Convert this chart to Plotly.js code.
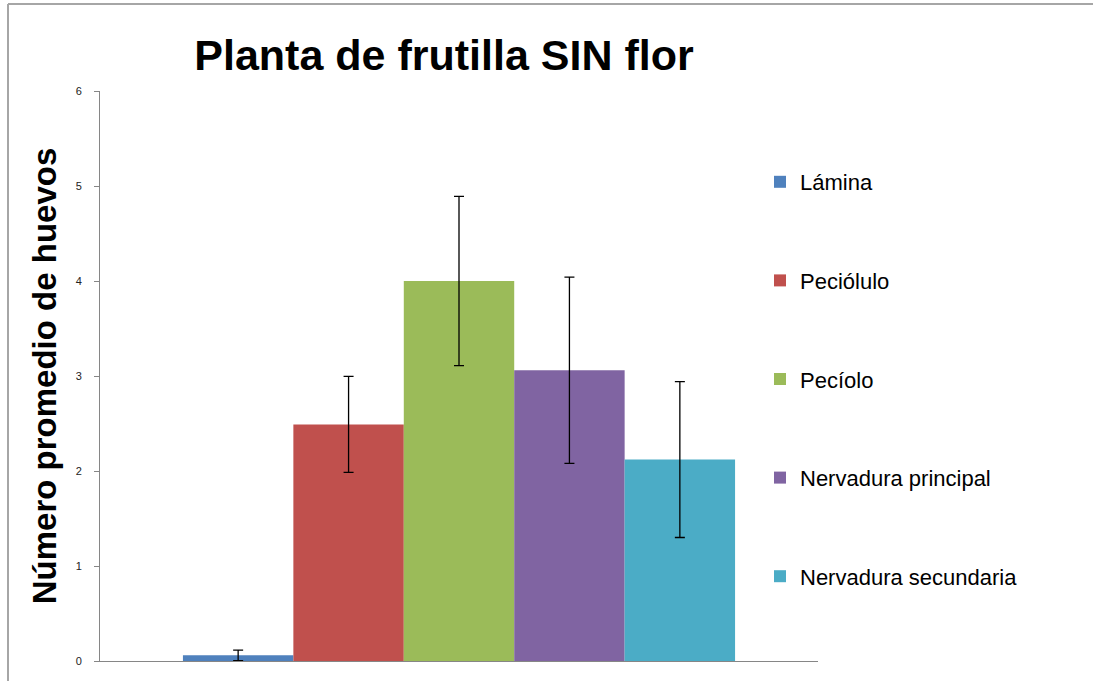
<!DOCTYPE html>
<html>
<head>
<meta charset="utf-8">
<script src="https://cdn.plot.ly/plotly-3.0.1.min.js"></script>
<style>html,body{margin:0;padding:0;background:#fff;}#chart{width:1093px;height:681px;}</style>
</head>
<body>
<div id="chart"></div>
<script>
var categories = ['Lámina', 'Peciólulo', 'Pecíolo', 'Nervadura principal', 'Nervadura secundaria'];
var means = [0.06, 2.49, 4.0, 3.06, 2.12];
var errors = [0.055, 0.505, 0.89, 0.98, 0.82];
var colors = ['#4F81BD', '#C0504D', '#9BBB59', '#8064A2', '#4BACC6'];
var yTicks = [0, 1, 2, 3, 4, 5, 6];

var traces = categories.map(function (name, i) {
  return {
    type: 'bar',
    name: name,
    x: [0],
    y: [means[i]],
    legendgroup: 'g' + i,
    marker: {color: colors[i], line: {width: 0}},
    error_y: {type: 'data', array: [errors[i]], visible: true, color: '#000', thickness: 1.3, width: 5},
    hoverinfo: 'name+y'
  };
});

var L = 100, R = 818, T = 91, B = 661;
function px2x(p) { return (p - L) / (R - L); }
function py2y(p) { return (B - p) / (B - T); }

var layout = {
  width: 1093, height: 681,
  margin: {l: L, r: 1093 - R, t: T, b: 681 - B, pad: 0},
  paper_bgcolor: '#fff', plot_bgcolor: '#fff',
  barmode: 'group', bargap: 0.231, bargroupgap: 0,
  showlegend: true,
  title: {
    text: 'Planta de frutilla SIN flor',
    font: {family: 'Liberation Sans, Arial, sans-serif', size: 43, color: '#000', weight: 'bold'},
    x: 444 / 1093, xanchor: 'center', xref: 'container',
    y: 1 - 55 / 681, yanchor: 'middle', yref: 'container'
  },
  xaxis: {
    range: [-0.5, 0.5], showline: true, linecolor: '#868686', linewidth: 1,
    showticklabels: false, ticks: '', showgrid: false, zeroline: false, fixedrange: true
  },
  yaxis: {
    range: [0, 6], tickvals: yTicks, ticktext: yTicks.map(String),
    showline: true, linecolor: '#868686', linewidth: 1,
    ticks: 'outside', ticklen: 5, tickcolor: '#868686', ticklabelstandoff: 10,
    tickfont: {family: 'Liberation Sans, Arial, sans-serif', size: 11, color: '#222'},
    showgrid: false, zeroline: false,
    title: {
      text: 'Número promedio de huevos', standoff: 9,
      font: {family: 'Liberation Sans, Arial, sans-serif', size: 33, color: '#000', weight: 'bold'}
    }
  },
  legend: {
    x: px2x(760), y: py2y(161), xanchor: 'left', yanchor: 'top',
    traceorder: 'grouped', tracegroupgap: 67,
    font: {family: 'Liberation Sans, Arial, sans-serif', size: 22, color: '#000'},
    bgcolor: 'rgba(0,0,0,0)', borderwidth: 0
  },
  shapes: [
    {type: 'line', xref: 'paper', yref: 'paper', x0: px2x(8), x1: px2x(1093), y0: py2y(4), y1: py2y(4), line: {color: '#a6a6a6', width: 2}},
    {type: 'line', xref: 'paper', yref: 'paper', x0: px2x(8), x1: px2x(8), y0: py2y(4), y1: py2y(681), line: {color: '#a6a6a6', width: 2}}
  ]
};

Plotly.newPlot('chart', traces, layout, {displayModeBar: false, responsive: false});
</script>
</body>
</html>
